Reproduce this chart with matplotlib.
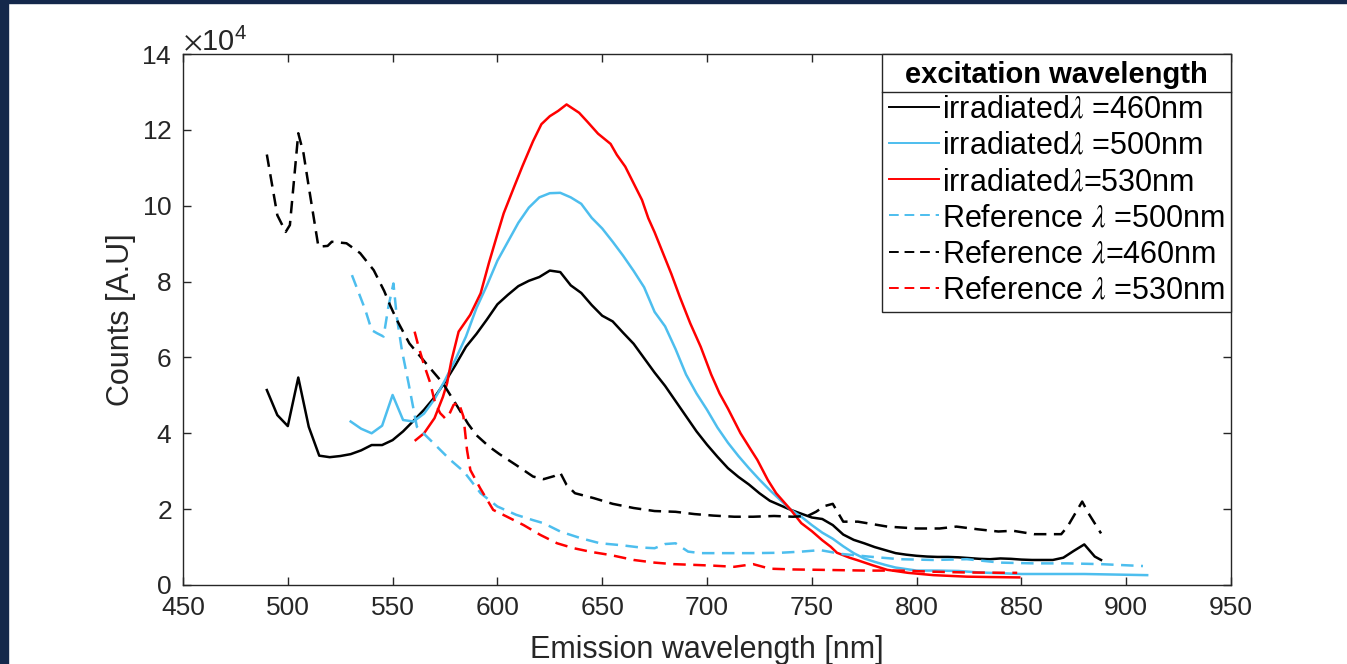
import numpy as np
import matplotlib
matplotlib.use("Agg")
import matplotlib.pyplot as plt
from matplotlib.lines import Line2D
from matplotlib.patches import Rectangle

plt.rcParams['font.family'] = ['Liberation Sans', 'DejaVu Sans']
plt.rcParams['mathtext.fontset'] = 'stix'

# ---------------- data (counts in units of 1e4) ----------------
irr460_wl = [490, 495, 500, 505, 510, 515, 520, 525, 530, 535, 540, 545, 550, 555, 560, 565, 570, 575,
             580, 585, 590, 595, 600, 605, 610, 615, 620, 625, 630, 635, 640, 645, 650, 655, 660, 665,
             670, 675, 680, 685, 690, 695, 700, 705, 710, 715, 720, 725, 730, 735, 740, 745, 750, 755,
             760, 765, 770, 775, 780, 785, 790, 795, 800, 805, 810, 815, 820, 825, 830, 835, 840, 845,
             850, 855, 860, 865, 870, 875, 880, 885, 888]
irr460_val = [5.14, 4.48, 4.19, 5.47, 4.17, 3.41, 3.37, 3.40, 3.45, 3.55, 3.69, 3.69, 3.82, 4.05, 4.33,
              4.62, 4.95, 5.35, 5.80, 6.28, 6.62, 7.00, 7.40, 7.65, 7.88, 8.02, 8.12, 8.29, 8.25, 7.90,
              7.70, 7.38, 7.10, 6.95, 6.65, 6.36, 5.98, 5.60, 5.25, 4.85, 4.45, 4.05, 3.70, 3.38, 3.08,
              2.85, 2.65, 2.42, 2.22, 2.10, 1.98, 1.88, 1.78, 1.74, 1.58, 1.33, 1.19, 1.10, 1.00, 0.92,
              0.84, 0.80, 0.77, 0.75, 0.74, 0.74, 0.73, 0.71, 0.69, 0.68, 0.70, 0.69, 0.67, 0.66, 0.66,
              0.66, 0.72, 0.90, 1.07, 0.75, 0.66]

irr500_wl = [530, 535, 540, 545, 550, 555, 560, 565, 570, 575, 580, 585, 590, 595, 600, 605, 610, 615,
             620, 625, 630, 635, 640, 645, 650, 655, 660, 665, 670, 675, 680, 685, 690, 695, 700, 705,
             710, 715, 720, 725, 730, 735, 740, 745, 750, 755, 760, 765, 770, 775, 780, 785, 790, 795,
             800, 810, 820, 830, 840, 850, 860, 870, 880, 890, 900, 910]
irr500_val = [4.31, 4.12, 4.00, 4.20, 5.01, 4.35, 4.31, 4.52, 4.90, 5.40, 5.95, 6.55, 7.30, 7.90, 8.55,
              9.05, 9.55, 9.95, 10.22, 10.33, 10.34, 10.22, 10.05, 9.68, 9.40, 9.05, 8.68, 8.28, 7.85,
              7.20, 6.82, 6.22, 5.55, 5.05, 4.62, 4.15, 3.75, 3.40, 3.08, 2.78, 2.50, 2.24, 1.98, 1.80,
              1.58, 1.38, 1.22, 1.02, 0.84, 0.70, 0.61, 0.53, 0.46, 0.42, 0.38, 0.38, 0.37, 0.33, 0.31,
              0.29, 0.29, 0.29, 0.29, 0.28, 0.27, 0.26]

irr530_wl = [561, 565, 570, 574, 576, 578, 581.5, 587, 592, 596, 600, 603, 608, 612, 617, 621, 625, 629,
             633, 639, 643, 648, 652, 654, 657, 661, 665, 669, 672, 675, 679, 683, 687, 692, 697, 702,
             706, 710, 716, 721, 724, 729, 733, 740, 745, 750, 755, 759, 762, 768, 772, 779, 786, 796,
             808, 824, 835, 849]
irr530_val = [3.82, 4.00, 4.40, 4.96, 5.32, 5.90, 6.68, 7.12, 7.69, 8.50, 9.25, 9.80, 10.50, 11.05, 11.70,
              12.15, 12.36, 12.50, 12.67, 12.45, 12.21, 11.90, 11.72, 11.63, 11.34, 11.03, 10.59, 10.15,
              9.67, 9.30, 8.75, 8.20, 7.60, 6.90, 6.28, 5.55, 5.05, 4.65, 4.00, 3.56, 3.30, 2.77, 2.42,
              1.98, 1.63, 1.42, 1.18, 1.01, 0.85, 0.72, 0.65, 0.52, 0.40, 0.32, 0.26, 0.22, 0.21, 0.20]

ref500_wl = [530.6, 537, 540, 542.5, 545.7, 548, 550.4, 552, 554.4, 557.6, 561.6, 569.5, 577.5, 584, 592,
             600, 609, 617, 622, 630, 640, 649, 659, 668, 675, 680, 685, 691, 697, 710, 722, 735, 745,
             754, 764, 777, 792, 808, 824, 840, 856, 872, 888, 908]
ref500_val = [8.17, 7.25, 6.72, 6.64, 6.55, 7.34, 7.95, 7.07, 6.20, 5.32, 4.17, 3.74, 3.30, 2.99, 2.42,
              2.07, 1.85, 1.71, 1.63, 1.41, 1.23, 1.10, 1.05, 0.99, 0.97, 1.08, 1.10, 0.88, 0.84, 0.84,
              0.84, 0.85, 0.88, 0.92, 0.82, 0.75, 0.68, 0.66, 0.68, 0.59, 0.57, 0.57, 0.55, 0.50]

ref460_wl = [490, 495, 499, 501, 505, 507.5, 510, 514.6, 519, 521, 528, 534.5, 541, 546, 549, 552, 558,
             566, 574, 581, 586, 590, 596, 601, 609, 617, 622, 627, 630, 633, 637, 646, 655, 665, 675,
             685, 694, 703, 713, 722, 732, 741, 748, 752, 756, 760, 765, 772, 786, 800, 811, 819, 829,
             839, 846, 856, 869, 872, 879, 882, 888]
ref460_val = [11.35, 9.75, 9.31, 9.49, 11.91, 11.38, 10.50, 8.92, 8.94, 9.05, 9.01, 8.75, 8.30, 7.75,
              7.35, 6.99, 6.37, 5.84, 5.32, 4.70, 4.25, 3.95, 3.65, 3.45, 3.16, 2.86, 2.79, 2.87, 2.96,
              2.64, 2.42, 2.29, 2.14, 2.03, 1.95, 1.93, 1.87, 1.83, 1.80, 1.80, 1.82, 1.80, 1.82, 1.93,
              2.08, 2.14, 1.67, 1.67, 1.54, 1.49, 1.49, 1.54, 1.47, 1.41, 1.43, 1.34, 1.34, 1.54, 2.20,
              1.89, 1.36]

ref530_wl = [560.5, 562.4, 564.8, 568, 570.3, 572.7, 574.3, 575.1, 576.7, 579.1, 581.5, 583.8, 585.5,
             587.1, 591.8, 598, 604.6, 612.5, 620.5, 628.5, 636.4, 645, 654, 665, 675, 684, 694, 703,
             713, 722, 730, 741, 754, 776, 792, 808, 824, 848]
ref530_val = [6.68, 6.28, 5.84, 5.32, 4.79, 4.53, 4.44, 4.39, 4.46, 4.75, 4.81, 4.44, 3.56, 3.03, 2.55,
              1.98, 1.80, 1.58, 1.32, 1.10, 0.97, 0.87, 0.79, 0.66, 0.59, 0.55, 0.53, 0.51, 0.48, 0.55,
              0.43, 0.41, 0.40, 0.38, 0.38, 0.35, 0.33, 0.32]

series_labels = [r"irradiated$\lambda$ =460nm", r"irradiated$\lambda$ =500nm", r"irradiated$\lambda$=530nm",
                 r"Reference $\lambda$ =500nm", r"Reference $\lambda$=460nm", r"Reference $\lambda$ =530nm"]
legend_title = "excitation wavelength"
x_ticks = [450, 500, 550, 600, 650, 700, 750, 800, 850, 900, 950]
y_ticks_e4 = [0, 2, 4, 6, 8, 10, 12, 14]
scale = 1e4

# ---------------- figure ----------------
W, H = 1347, 664
fig = plt.figure(figsize=(W / 100, H / 100), dpi=100)
fig.patch.set_facecolor('white')
ax = fig.add_axes([183 / W, 1 - 585 / H, (1231 - 183) / W, (585 - 54) / H])

black = '#000000'
blue = '#4DBEEE'
red = '#FF0000'
lw = 1.8
dash = (0, (5, 3))

series = [
    (irr460_wl, irr460_val, black, '-'),
    (irr500_wl, irr500_val, blue, '-'),
    (irr530_wl, irr530_val, red, '-'),
    (ref500_wl, ref500_val, blue, dash),
    (ref460_wl, ref460_val, black, dash),
    (ref530_wl, ref530_val, red, dash),
]
for (wl, val, c, ls), lab in zip(series, series_labels):
    ax.plot(wl, np.array(val) * scale, color=c, linestyle=ls, linewidth=lw, label=lab)

axc = '#262626'
ax.set_xlim(450, 950)
ax.set_ylim(0, 14e4)
ax.set_xticks(x_ticks)
ax.set_yticks(np.array(y_ticks_e4) * scale)
ax.ticklabel_format(axis='y', style='sci', scilimits=(4, 4), useMathText=True)
ax.yaxis.get_offset_text().set_fontsize(21)
ax.yaxis.get_offset_text().set_color(axc)
for s in ax.spines.values():
    s.set_color(axc)
    s.set_linewidth(1.0)
ax.tick_params(direction='in', length=6, width=1.0, color=axc, labelcolor=axc,
               labelsize=19, top=True, right=True)
ax.tick_params(axis='y', pad=8)
ax.tick_params(axis='x', pad=8)
ax.set_xlabel("Emission wavelength [nm]", fontsize=22, color=axc, labelpad=11)
ax.set_ylabel("Counts [A.U]", fontsize=22, color=axc, labelpad=4)

leg = ax.legend(loc='upper right', bbox_to_anchor=(1.0, 1.0), borderaxespad=0,
                fontsize=22, title=legend_title,
                title_fontproperties={'weight': 'bold', 'size': 21},
                fancybox=False, framealpha=1, edgecolor=axc,
                handlelength=1.65, handletextpad=0.08, labelspacing=0.2,
                borderpad=0.22)
leg.get_frame().set_linewidth(1.0)
for h in leg.get_lines():
    h.set_linewidth(1.4)

# navy screenshot border
fig.patches.append(Rectangle((0, 0), 8 / W, 1, transform=fig.transFigure, color='#14284b', zorder=10))
fig.patches.append(Rectangle((0, 1 - 3 / H), 1, 3 / H, transform=fig.transFigure, color='#14284b', zorder=10))

# divider under legend title
fig.canvas.draw()
r = fig.canvas.get_renderer()
lb = leg.get_frame().get_window_extent(r)
tb = leg.get_title().get_window_extent(r)
ydiv = tb.y0 - 3
fig.lines.append(Line2D([lb.x0 / W, lb.x1 / W], [ydiv / H, ydiv / H], transform=fig.transFigure,
                        color=axc, linewidth=1.0))

fig.savefig('out.png', dpi=100)
